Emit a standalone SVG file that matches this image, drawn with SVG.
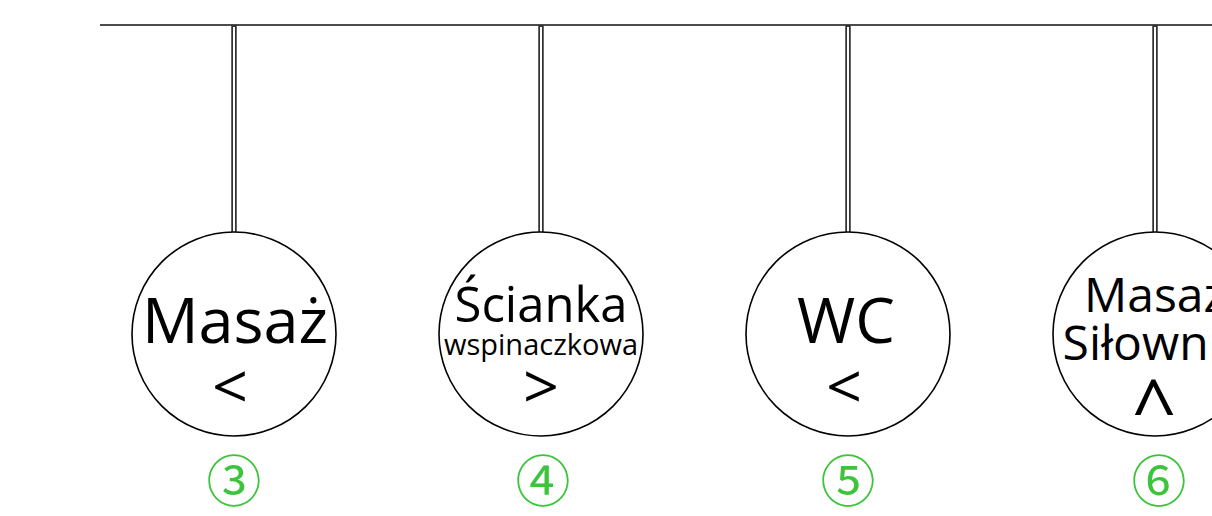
<svg xmlns="http://www.w3.org/2000/svg" width="1212" height="516" viewBox="0 0 1212 516">
<style>
.bus{stroke:#111;stroke-width:1.6;fill:none}
.stemo{stroke:#333;stroke-width:5.5}
.stemi{stroke:#fff;stroke-width:2}
.node{fill:#fff;stroke:#000;stroke-width:1.6}
.t{font-family:"Open Sans","Noto Sans",sans-serif;fill:#000;text-anchor:middle}
.num{font-family:"Noto Sans CJK JP","DejaVu Sans",sans-serif;fill:#3cc43c;text-anchor:middle;font-size:55px}
</style>
<g id="connectors">
<line class="bus" x1="100" y1="25" x2="1212" y2="25"/>
<line class="stemo" x1="234" y1="25" x2="234" y2="232"/><line class="stemi" x1="234" y1="27" x2="234" y2="232"/>
<line class="stemo" x1="541" y1="25" x2="541" y2="232"/><line class="stemi" x1="541" y1="27" x2="541" y2="232"/>
<line class="stemo" x1="848" y1="25" x2="848" y2="232"/><line class="stemi" x1="848" y1="27" x2="848" y2="232"/>
<line class="stemo" x1="1155" y1="25" x2="1155" y2="232"/><line class="stemi" x1="1155" y1="27" x2="1155" y2="232"/>
</g>
<g id="node3">
<circle class="node" cx="234" cy="334" r="102"/>
<text class="t" x="235" y="343" font-size="63">Masaż</text>
<text class="t" x="230" y="409" font-size="63">&lt;</text>
<text class="num" x="234" y="501">③</text>
</g>
<g id="node4">
<circle class="node" cx="541" cy="334" r="102"/>
<text class="t" x="541" y="322" font-size="49">Ścianka</text>
<text class="t" x="541" y="355" font-size="29">wspinaczkowa</text>
<text class="t" x="541" y="409" font-size="63">&gt;</text>
<text class="num" x="543" y="501">④</text>
</g>
<g id="node5">
<circle class="node" cx="848" cy="334" r="102"/>
<text class="t" x="846" y="343" font-size="63">WC</text>
<text class="t" x="844" y="409" font-size="63">&lt;</text>
<text class="num" x="848" y="501">⑤</text>
</g>
<g id="node6">
<circle class="node" cx="1155" cy="334" r="102"/>
<text class="t" x="1155" y="312" font-size="48">Masaż</text>
<text class="t" x="1155" y="360" font-size="48">Siłownia</text>
<text class="t" x="1154" y="436" font-size="78">^</text>
<text class="num" x="1159" y="501">⑥</text>
</g>
</svg>
